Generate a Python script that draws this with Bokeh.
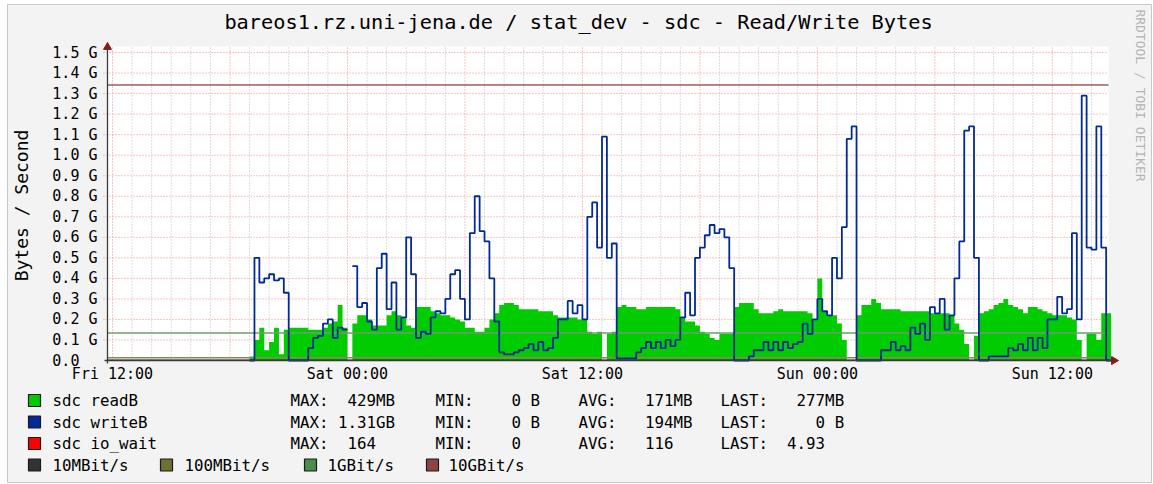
import math
from bokeh.plotting import figure
from bokeh.models import Range1d, FixedTicker, Label, BoxAnnotation, ColumnDataSource
from bokeh.embed import file_html
from bokeh.resources import INLINE

nan = float("nan")

# ---------------- data ----------------
start_hour = 7.0      # hours after Fri 12:00 of first sample
step_hours = 0.25     # 15 minute samples

read_gb = [
    0.02, 0.10, 0.16, 0.05, 0.09, 0.16, 0.03, 0.15, 0.16, 0.16,
    0.16, 0.16, 0.15, 0.15, 0.15, 0.16, 0.18, 0.19, 0.27, 0.16,
    nan, 0.18, 0.22, 0.22, 0.20, 0.17, 0.17, 0.17, 0.22, 0.24,
    0.22, 0.21, 0.17, 0.16, 0.26, 0.26, 0.26, 0.24, 0.23, 0.22,
    0.22, 0.21, 0.20, 0.19, 0.16, 0.16, 0.14, 0.14, 0.16, 0.20,
    0.23, 0.27, 0.28, 0.28, 0.27, 0.25, 0.25, 0.25, 0.25, 0.24,
    0.24, 0.24, 0.22, 0.21, 0.21, 0.21, 0.21, 0.20, 0.20, 0.14,
    0.13, 0.14, 0.00, 0.13, 0.14, 0.26, 0.27, 0.26, 0.26, 0.25,
    0.25, 0.26, 0.26, 0.26, 0.26, 0.26, 0.26, 0.25, 0.21, 0.19,
    0.19, 0.17, 0.14, 0.13, 0.11, 0.10, 0.13, 0.13, 0.13, 0.26,
    0.28, 0.28, 0.28, 0.25, 0.23, 0.23, 0.23, 0.24, 0.25, 0.24,
    0.24, 0.24, 0.24, 0.24, 0.23, 0.20, 0.40, 0.24, 0.22, 0.22,
    0.18, 0.10, 0.00, 0.00, 0.22, 0.27, 0.27, 0.30, 0.28, 0.25,
    0.25, 0.25, 0.25, 0.24, 0.24, 0.24, 0.24, 0.24, 0.24, 0.23,
    0.23, 0.23, 0.23, 0.22, 0.18, 0.15, 0.08, 0.00, 0.12, 0.23,
    0.24, 0.25, 0.27, 0.28, 0.30, 0.27, 0.26, 0.25, 0.23, 0.26,
    0.26, 0.25, 0.24, 0.23, 0.22, 0.22, 0.22, 0.21, 0.20, 0.10,
    0.00, 0.13, 0.13, 0.10, 0.23, 0.23,
]

write_gb = [
    0.00, 0.50, 0.38, 0.40, 0.42, 0.39, 0.40, 0.33, 0.00, 0.00,
    0.00, 0.00, 0.06, 0.11, 0.12, 0.18, 0.20, 0.11, 0.16, 0.15,
    nan, 0.46, 0.26, 0.28, 0.19, 0.15, 0.45, 0.52, 0.25, 0.38,
    0.15, 0.21, 0.60, 0.42, 0.11, 0.14, 0.13, 0.21, 0.24, 0.23,
    0.30, 0.42, 0.44, 0.30, 0.20, 0.62, 0.80, 0.63, 0.58, 0.40,
    0.19, 0.04, 0.03, 0.03, 0.04, 0.05, 0.06, 0.08, 0.05, 0.09,
    0.05, 0.06, 0.11, 0.20, 0.20, 0.29, 0.23, 0.27, 0.20, 0.70,
    0.77, 0.55, 1.09, 0.50, 0.57, 0.01, 0.01, 0.01, 0.01, 0.04,
    0.06, 0.09, 0.06, 0.09, 0.06, 0.10, 0.07, 0.10, 0.21, 0.33,
    0.22, 0.50, 0.55, 0.61, 0.66, 0.62, 0.64, 0.60, 0.45, 0.00,
    0.00, 0.00, 0.02, 0.05, 0.05, 0.09, 0.05, 0.09, 0.05, 0.09,
    0.06, 0.08, 0.09, 0.18, 0.13, 0.20, 0.30, 0.24, 0.22, 0.50,
    0.40, 0.65, 1.08, 1.14, 0.00, 0.00, 0.00, 0.00, 0.00, 0.05,
    0.05, 0.09, 0.05, 0.07, 0.05, 0.16, 0.13, 0.18, 0.10, 0.26,
    0.23, 0.30, 0.15, 0.22, 0.40, 0.58, 1.12, 1.14, 0.50, 0.00,
    0.00, 0.02, 0.02, 0.02, 0.02, 0.06, 0.05, 0.08, 0.05, 0.11,
    0.05, 0.11, 0.06, 0.20, 0.20, 0.31, 0.23, 0.25, 0.62, 0.20,
    1.29, 0.55, 0.54, 1.14, 0.55, 0.00,
]

x_tick_hours = [0, 12, 24, 36, 48]
x_tick_labels = ["Fri 12:00", "Sat 00:00", "Sat 12:00", "Sun 00:00", "Sun 12:00"]
y_ticks = [round(0.1 * k, 1) for k in range(16)]
y_tick_labels = ["0.0  ", "0.1 G", "0.2 G", "0.3 G", "0.4 G", "0.5 G", "0.6 G", "0.7 G",
                 "0.8 G", "0.9 G", "1.0 G", "1.1 G", "1.2 G", "1.3 G", "1.4 G", "1.5 G"]

link_names = ["10MBit/s", "100MBit/s", "1GBit/s", "10GBit/s"]
link_gb = [0.00131, 0.0131, 0.1342, 1.342]
link_box_colors = ["#333333", "#707034", "#4C8C4C", "#8C4444"]
link_line_colors = ["#333333", "#8A8A50", "#6E9E6E", "#A05A5A"]

series_names = ["sdc readB", "sdc writeB", "sdc io_wait"]
series_colors = ["#00CC00", "#00299A", "#FF0000"]
stat_max = ["MAX:  429MB", "MAX: 1.31GB", "MAX:  164"]
stat_min = ["MIN:    0 B", "MIN:    0 B", "MIN:    0"]
stat_avg = ["AVG:   171MB", "AVG:   194MB", "AVG:   116"]
stat_last = ["LAST:   277MB", "LAST:     0 B", "LAST:  4.93"]

title_text = "bareos1.rz.uni-jena.de / stat_dev - sdc - Read/Write Bytes"
y_label_text = "Bytes / Second"
watermark_text = "RRDTOOL / TOBI OETIKER"

# ---------------- geometry (page pixels) ----------------
FONT = "DejaVu Sans Mono"
BG = "#F3F3F3"
W, H = 1153, 484
PX_H = 19.58     # pixels per hour
PX_G = 205.3     # pixels per GB/s
X0, Y0 = 112, 360  # page position of Fri 12:00 / 0


def hx(px):
    return (px - X0) / PX_H


def gy(py):
    return (Y0 - py) / PX_G


def keep_spaces(s):
    return s.replace(" ", "\u00a0")


p = figure(width=W, height=H, x_range=Range1d(hx(0), hx(W)),
           y_range=Range1d(gy(H), gy(0)), output_backend="svg",
           toolbar_location=None, title=None,
           min_border_left=0, min_border_right=0, min_border_top=0, min_border_bottom=0)
p.background_fill_color = "#FFFFFF"
p.border_fill_color = "#FFFFFF"
p.outline_line_color = None
p.grid.visible = False

# outer image box
p.quad(left=hx(7), right=hx(1151), bottom=gy(482), top=gy(4), fill_color=BG,
       line_color="#C8C8C8", line_width=1)

# canvas
c_left, c_right, c_top = hx(107), hx(1108), gy(46)
p.quad(left=c_left, right=c_right, bottom=0, top=c_top, fill_color="white", line_color=None)

for ax in (p.xaxis[0], p.yaxis[0]):
    ax.axis_line_color = None
    ax.major_tick_line_color = None
    ax.minor_tick_line_color = None
    ax.major_tick_out = 0
    ax.major_tick_in = 0
    ax.minor_tick_out = 0
    ax.major_label_text_font = FONT
    ax.major_label_text_font_size = "15px"
    ax.major_label_text_color = "#000000"

p.xaxis.ticker = FixedTicker(ticks=x_tick_hours)
p.xaxis.major_label_overrides = dict(zip(x_tick_hours, x_tick_labels))
p.xaxis.major_label_standoff = 4
p.xaxis.fixed_location = 0
p.yaxis.ticker = FixedTicker(ticks=y_ticks)
p.yaxis.major_label_overrides = {t: keep_spaces(s) for t, s in zip(y_ticks, y_tick_labels)}
p.yaxis.major_label_standoff = 10
p.yaxis.fixed_location = c_left

# grid
minor_h = [h for h in range(0, 51) if h % 6]
major_h = list(range(0, 49, 6))
p.segment(x0=minor_h, x1=minor_h, y0=0, y1=c_top, line_color="#BDBDBD",
          line_dash="1 2", line_width=1)
p.segment(x0=major_h, x1=major_h, y0=0, y1=c_top, line_color="#F08C8C",
          line_dash="1 2", line_width=1)
p.segment(x0=hx(103), x1=c_right, y0=y_ticks[1:], y1=y_ticks[1:], line_color="#F08C8C",
          line_dash="1 2", line_width=1)


def runs(vals):
    out, a = [], None
    for i, v in enumerate(vals + [nan]):
        ok = not math.isnan(v)
        if ok and a is None:
            a = i
        if not ok and a is not None:
            out.append((a, i))
            a = None
    return out


def step_xy(vals, a, b):
    xs = [start_hour + step_hours * i for i in range(a, b + 1)]
    ys = vals[a:b] + [vals[b - 1]]
    return xs, ys


for a, b in runs(read_gb):
    xs, ys = step_xy(read_gb, a, b)
    p.varea_step(x=xs, y1=[0] * len(xs), y2=ys, step_mode="after",
                 fill_color=series_colors[0])

# link speed rules
links = ColumnDataSource(dict(y=link_gb, color=link_line_colors))
p.segment(x0=c_left, x1=c_right, y0="y", y1="y", line_color="color",
          line_width=1.6, source=links)

for a, b in runs(write_gb):
    xs, ys = step_xy(write_gb, a, b)
    p.step(x=xs, y=ys, mode="after", line_color=series_colors[1], line_width=1.8)

# axes lines + arrows
AX = "#3A3A3A"
p.segment(x0=c_left, x1=c_left, y0=gy(363), y1=gy(48), line_color=AX, line_width=1.3)
p.segment(x0=hx(104), x1=hx(1112), y0=0, y1=0, line_color=AX, line_width=1.3)
p.scatter(x=[c_left], y=[gy(46.6)], marker="triangle", size=8,
          fill_color="#8B1A1A", line_color="#8B1A1A")
p.scatter(x=[hx(1113.4)], y=[0], marker="triangle", size=8, angle=-math.pi / 2,
          fill_color="#8B1A1A", line_color="#8B1A1A")


# ---------------- texts ----------------
def lab(px, py, text, size, color="#000000", angle=0.0, align="left"):
    p.add_layout(Label(x=px, y=py, x_units="canvas", y_units="canvas",
                       text=keep_spaces(text), text_font=FONT, text_font_size=size,
                       text_color=color, angle=angle, text_align=align,
                       text_baseline="middle"))


def box(px, py, color):
    p.add_layout(BoxAnnotation(left=px, right=px + 12, top=py - 6,
                               bottom=py + 6, left_units="canvas",
                               right_units="canvas", top_units="canvas",
                               bottom_units="canvas", fill_color=color, fill_alpha=1,
                               line_color="#1A1A1A", line_width=1.2, line_alpha=1))


LEG = "15.8px"
lab(578, 21, title_text, "20.3px", align="center")
lab(21, 205, y_label_text, "18px", angle=math.pi / 2, align="center")
lab(1140, 95, watermark_text, "13px", color="#B4B4B4", angle=-math.pi / 2, align="center")

row_y = [400, 421.5, 443]
for k in range(3):
    box(28, row_y[k], series_colors[k])
    lab(52, row_y[k], series_names[k], LEG)
    lab(290, row_y[k], stat_max[k], LEG)
    lab(435, row_y[k], stat_min[k], LEG)
    lab(578, row_y[k], stat_avg[k], LEG)
    lab(720, row_y[k], stat_last[k], LEG)

box_x = [28, 160, 304, 426]
txt_x = [52, 184, 327, 448]
for k in range(4):
    box(box_x[k], 464.5, link_box_colors[k])
    lab(txt_x[k], 464.5, link_names[k], LEG)

open("out.html", "w").write(file_html(p, INLINE))
